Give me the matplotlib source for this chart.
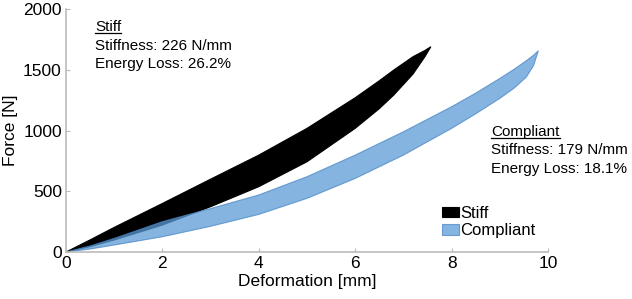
import matplotlib
matplotlib.use('Agg')
import matplotlib.pyplot as plt
from matplotlib.lines import Line2D
import numpy as np

plt.rcParams['font.family'] = ['Liberation Sans', 'DejaVu Sans']

# Stiff hysteresis loop (loading / unloading)
stiff_x = [0, 0.5, 1, 2, 3, 4, 5, 6, 6.5, 6.8, 7.2, 7.45, 7.57]
stiff_load = [0, 100, 203, 400, 600, 798, 1018, 1270, 1410, 1498, 1608, 1660, 1690]
stiff_unload = [0, 45, 99, 222, 373, 538, 743, 1018, 1180, 1292, 1465, 1610, 1690]

# Compliant hysteresis loop
comp_x = [0, 0.5, 1, 2, 3, 4, 5, 6, 7, 8, 8.5, 9, 9.3, 9.55, 9.7, 9.8]
comp_load = [0, 50, 112, 250, 358, 470, 620, 798, 990, 1196, 1308, 1429, 1505, 1575, 1620, 1657]
comp_unload = [0, 25, 58, 126, 212, 310, 442, 606, 798, 1018, 1138, 1265, 1350, 1440, 1535, 1657]

xticks = [0, 2, 4, 6, 8, 10]
yticks = [0, 500, 1000, 1500, 2000]

fig = plt.figure(figsize=(6.32, 2.99), dpi=100)
ax = fig.add_axes([0.1044, 0.157, 0.7627, 0.8127])

ax.fill(np.concatenate([stiff_x, stiff_x[::-1]]),
        np.concatenate([stiff_load, stiff_unload[::-1]]),
        facecolor='black', edgecolor='black', linewidth=0.8, label='Stiff')
ax.fill(np.concatenate([comp_x, comp_x[::-1]]),
        np.concatenate([comp_load, comp_unload[::-1]]),
        facecolor='#5B9BD5', alpha=0.75, edgecolor='#4A87C7', linewidth=0.8,
        label='Compliant')

ax.set_xlim(0, 10)
ax.set_ylim(0, 2000)
ax.set_xticks(xticks)
ax.set_yticks(yticks)
ax.tick_params(direction='in', length=3, color='#BBBBBB', labelsize=12.5, pad=3)
for s in ['top', 'right']:
    ax.spines[s].set_visible(False)
for s in ['left', 'bottom']:
    ax.spines[s].set_color('#BBBBBB')
    ax.spines[s].set_linewidth(1.2)

ax.set_xlabel('Deformation [mm]', fontsize=12.5, labelpad=2)
ax.set_ylabel('Force [N]', fontsize=12.5, labelpad=4)

heads = []
heads.append(ax.text(0.6, 1852, 'Stiff', fontsize=11, va='center'))
ax.text(0.6, 1700, 'Stiffness: 226 N/mm', fontsize=11, va='center')
ax.text(0.6, 1545, 'Energy Loss: 26.2%', fontsize=11, va='center')

heads.append(ax.text(8.82, 988, 'Compliant', fontsize=11, va='center'))
ax.text(8.82, 838, 'Stiffness: 179 N/mm', fontsize=11, va='center')
ax.text(8.82, 683, 'Energy Loss: 18.1%', fontsize=11, va='center')

ax.legend(loc='upper left', bbox_to_anchor=(0.78, 0.19), frameon=False,
          fontsize=12, handlelength=1.0, handleheight=0.6, handletextpad=0.1,
          labelspacing=0.15, borderpad=0, borderaxespad=0)

# underline the two headings
fig.canvas.draw()
inv = fig.transFigure.inverted()
for t in heads:
    bb = t.get_window_extent()
    (x0, y0), (x1, _) = inv.transform([(bb.x0, bb.y0 + 1), (bb.x1, bb.y0 + 1)])
    fig.add_artist(Line2D([x0, x1], [y0, y0], color='black', linewidth=0.9))

fig.savefig('out.png', dpi=100)
